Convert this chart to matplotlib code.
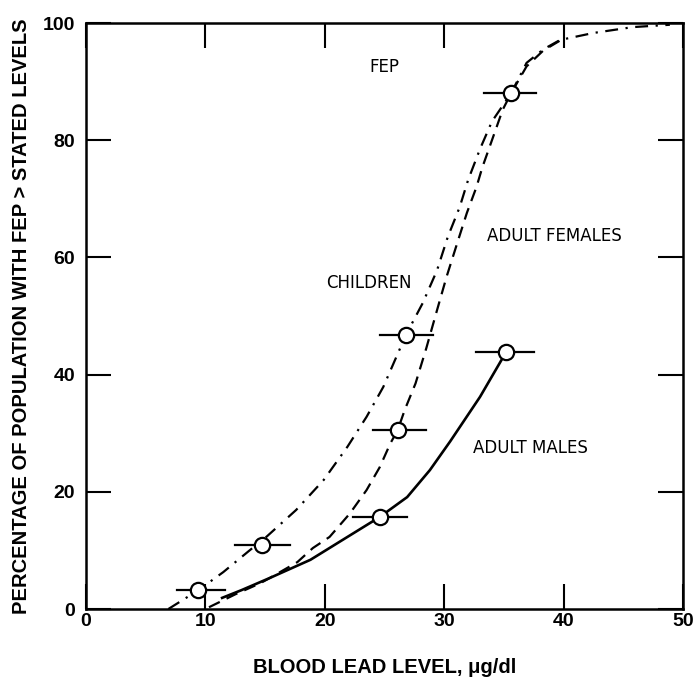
import matplotlib
matplotlib.use("Agg")
import matplotlib.pyplot as plt

# ---- data ----
# Children (dash-dot curve)
children_curve_x = [6.9, 9.4, 11.5, 13.7, 15.1, 17.6, 19.9, 21.9, 23.5, 24.9, 26.8, 28.2, 29.4, 30.3, 31.3, 32.0, 33.0, 34.0, 35.6, 36.3, 36.9, 38.3, 39.7, 42.5, 45.8, 48.9]
children_curve_y = [0.0, 3.2, 6.3, 10.0, 12.3, 16.9, 22.0, 27.7, 32.8, 37.9, 46.8, 52.2, 57.8, 63.5, 68.6, 73.2, 78.5, 83.2, 88.0, 90.8, 93.2, 95.5, 97.1, 98.3, 99.3, 99.7]
children_pts_x = [9.4, 14.7, 26.8, 35.6]
children_pts_y = [3.2, 10.9, 46.8, 88.0]
children_err_lo = [7.6, 12.5, 24.6, 33.3]
children_err_hi = [11.6, 17.1, 29.1, 37.7]

# Adult females (dashed curve)
females_curve_x = [10.3, 12.5, 14.6, 15.4, 17.7, 19.0, 20.4, 22.1, 23.5, 24.6, 25.5, 26.1, 26.7, 27.6, 28.5, 29.4, 30.2, 31.1, 31.9, 32.7, 33.2, 34.0, 34.9, 35.6, 36.9, 38.3, 39.7]
females_curve_y = [0.3, 2.5, 4.4, 5.3, 8.0, 10.4, 12.3, 16.3, 20.3, 24.2, 28.3, 30.5, 34.0, 38.5, 44.5, 51.0, 56.7, 62.5, 67.6, 72.0, 75.4, 80.0, 85.2, 88.0, 92.6, 95.3, 97.0]
females_pts_x = [26.1]
females_pts_y = [30.5]
females_err_lo = [24.0]
females_err_hi = [28.5]

# Adult males (solid curve)
males_curve_x = [11.4, 13.0, 15.4, 18.8, 21.5, 24.6, 26.9, 28.8, 30.5, 33.0, 35.2]
males_curve_y = [1.9, 3.2, 5.3, 8.4, 11.8, 15.7, 19.1, 23.7, 28.6, 36.2, 43.9]
males_pts_x = [24.6, 35.2]
males_pts_y = [15.7, 43.9]
males_err_lo = [22.4, 32.7]
males_err_hi = [26.9, 37.5]

x_ticks = [0, 10, 20, 30, 40, 50]
y_ticks = [0, 20, 40, 60, 80, 100]

labels = ["FEP", "CHILDREN", "ADULT FEMALES", "ADULT MALES"]
label_x = [25.0, 23.7, 39.2, 37.2]
label_y = [92.5, 55.6, 63.7, 27.5]

# ---- figure ----
plt.rcParams['font.family'] = ['Liberation Sans', 'DejaVu Sans']
fig = plt.figure(figsize=(6.95, 6.81), dpi=100)
ax = fig.add_axes([86/695, 1-609/681, (683-86)/695, (609-23)/681])

lw = 1.6
ax.plot(children_curve_x, children_curve_y, color='black', lw=lw,
        dashes=(5.8, 3.4, 1.0, 3.4), zorder=2)
ax.plot(females_curve_x, females_curve_y, color='black', lw=lw,
        dashes=(5.4, 3.4), zorder=2)
ax.plot(males_curve_x, males_curve_y, color='black', lw=lw + 0.3,
        linestyle='-', zorder=2)

def draw_points(xs, ys, lo, hi):
    for x, y, a, b in zip(xs, ys, lo, hi):
        ax.plot([a, b], [y, y], color='black', lw=1.6, zorder=3)
    ax.plot(xs, ys, linestyle='none', marker='o', markersize=11,
            markerfacecolor='white', markeredgecolor='black',
            markeredgewidth=1.6, zorder=4)

draw_points(children_pts_x, children_pts_y, children_err_lo, children_err_hi)
draw_points(females_pts_x, females_pts_y, females_err_lo, females_err_hi)
draw_points(males_pts_x, males_pts_y, males_err_lo, males_err_hi)

for t, x, y in zip(labels, label_x, label_y):
    ax.text(x, y, t, ha='center', va='center', fontsize=12,
            family=['DejaVu Sans'])

ax.set_xlim(0, 50)
ax.set_ylim(0, 100)
ax.set_xticks(x_ticks)
ax.set_yticks(y_ticks)
ax.tick_params(direction='in', length=18, width=1.5, top=True, right=True,
               labelsize=14)
ax.tick_params(axis='x', pad=3)
ax.tick_params(axis='y', pad=8)
for lab in ax.get_xticklabels() + ax.get_yticklabels():
    lab.set_fontweight('bold')
for s in ax.spines.values():
    s.set_linewidth(1.8)

ax.set_xlabel("BLOOD LEAD LEVEL, \u03bcg/dl", fontsize=14.5, fontweight='bold',
              labelpad=20)
ax.set_ylabel("PERCENTAGE OF POPULATION WITH FEP > STATED LEVELS",
              fontsize=14.5, fontweight='bold', labelpad=8)

fig.savefig("out.png", dpi=100)
